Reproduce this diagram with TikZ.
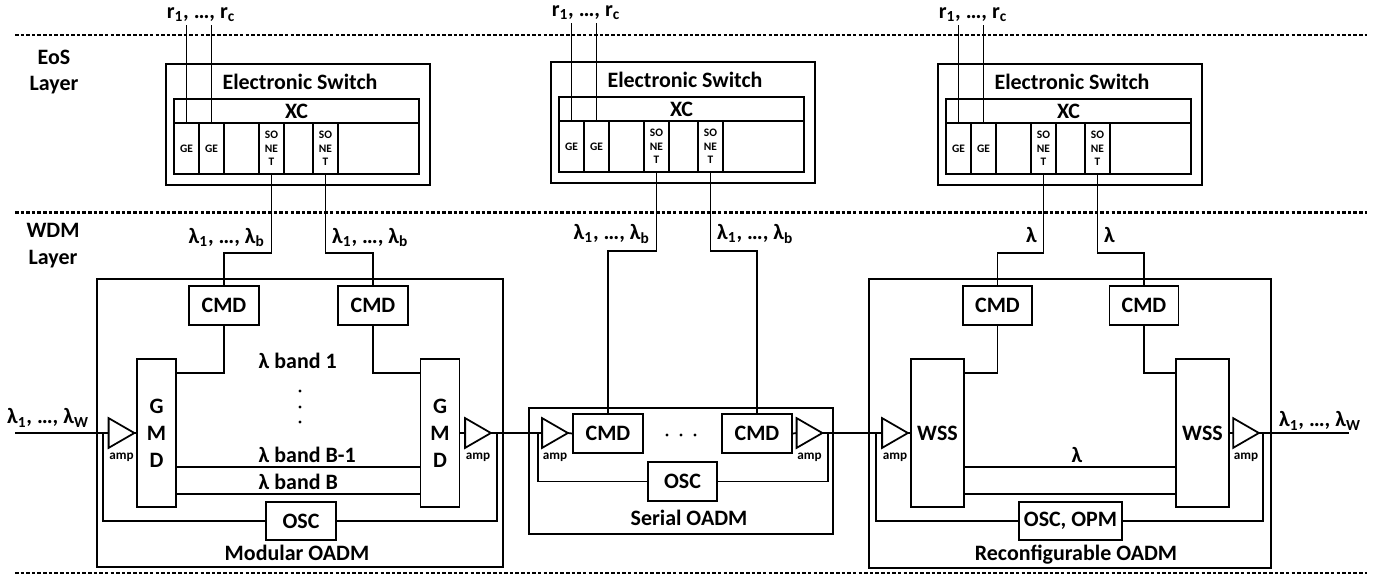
\documentclass[tikz,border=0pt]{standalone}
\usepackage{fontspec}
\setmainfont{Carlito}
\usetikzlibrary{positioning}

\begin{document}
\begin{tikzpicture}[
  x=0.2mm, y=-0.2mm, line width=1pt,
  every node/.style={font=\bfseries\fontsize{12.5}{15.3}\selectfont},
  blk/.style={draw, inner sep=0pt},
  cmd/.style={blk, minimum width=14mm, minimum height=7.8mm},
  cell/.style={draw, inner sep=0pt, minimum height=10.2mm, align=center, font=\bfseries\fontsize{6.5}{7.6}\selectfont},
  ampbox/.style={inner sep=0pt, minimum width=4.8mm, minimum height=5.6mm},
  amplbl/.style={inner sep=1pt, font=\bfseries\fontsize{7.5}{9}\selectfont},
  layerline/.style={line width=1.4pt, dash pattern=on 2pt off 1.2pt},
]
\useasboundingbox (0,0) rectangle (1391,576);

% ====== Layer separators ======
\draw[layerline] (15,35) -- (1367,35);
\draw[layerline] (15,212.5) -- (1367,212.5);
\draw[layerline] (15,573) -- (1367,573);
\node[align=center] (eosLbl) at (54,72) {EoS\\Layer};
\node[align=center] (wdmLbl) at (53,246) {WDM\\Layer};

% ====== Electronic switches ======
\foreach \sw/\xo/\yo in {L/166/64, M/551/62, R/938/64}{
  \begin{scope}[shift={(\xo,\yo)}]
    \node[blk, minimum width=52.8mm, minimum height=24.2mm] (\sw-box) at (132,60.5) {};
    \node (\sw-title) at (134,18) {Electronic Switch};
    \node[blk, minimum width=49mm, minimum height=4.8mm] (\sw-xc) at (130.5,47) {XC};
    \node[cell, minimum width=5mm] (\sw-ge1) at (20.5,84.5) {GE};
    \node[cell, minimum width=5mm] (\sw-ge2) at (45.5,84.5) {GE};
    \node[cell, minimum width=7mm] (\sw-e1) at (75.5,84.5) {};
    \node[cell, minimum width=5mm] (\sw-so1) at (105.5,84.5) {SO\\NE\\T};
    \node[cell, minimum width=5.8mm] (\sw-e2) at (132.5,84.5) {};
    \node[cell, minimum width=5mm] (\sw-so2) at (159.5,84.5) {SO\\NE\\T};
    \node[cell, minimum width=16.2mm] (\sw-e3) at (212.5,84.5) {};
    \node[inner sep=1pt] (\sw-r) at (35,-49) {r\textsubscript{1}, …, r\textsubscript{c}};
    \draw (\sw-ge1.north) -- (\sw-ge1.north |- \sw-r.south);
    \draw (\sw-ge2.north) -- (\sw-ge2.north |- \sw-r.south);
  \end{scope}
}

% ====== Amplifiers ======
\foreach \a/\p in {ampA1/{121.5,433}, ampA2/{478,433}, ampS1/{555,433},
                   ampS2/{809.5,433}, ampR1/{895,433}, ampR2/{1246,433}}{
  \node[ampbox] (\a) at (\p) {};
  \draw (\a.north west) -- (\a.east) -- (\a.south west) -- cycle;
  \node[amplbl, below=0.4mm of \a] (\a-lbl) {amp};
}

% ====== Modular OADM ======
\node[blk, minimum width=81.2mm, minimum height=57.6mm] (boxA) at (300,423) {};
\node (modTitle) at (297,553) {Modular OADM};
\node[cmd] (cmdA1) at (224,305.5) {CMD};
\node[cmd] (cmdA2) at (373,305.5) {CMD};
\node[blk, minimum width=7.8mm, minimum height=29.6mm, align=center] (gmdA1) at (156.5,433) {G\\M\\D};
\node[blk, minimum width=7.8mm, minimum height=29.6mm, align=center] (gmdA2) at (440,433) {G\\M\\D};
\node[blk, minimum width=14mm, minimum height=7.6mm] (oscA) at (301,521) {OSC};
\node[anchor=west] (band1) at (252,361) {λ band 1};
\node[anchor=west] (bandB1) at (252,455) {λ band B-1};
\node[anchor=west] (bandB) at (252,482) {λ band B};
\foreach \d in {391,407,422} \fill (300,\d) circle (1.6);
\coordinate (inW) at (15,433);
\coordinate (tapA1) at (103,433);
\coordinate (tapA2) at (497,433);
\node (inLbl) at (48,418) {λ\textsubscript{1}, …, λ\textsubscript{W}};

\draw (inW) -- (ampA1.west);
\draw (ampA1.east) -- (gmdA1.west);
\draw (cmdA1.south) |- ([yshift=12mm]gmdA1.east);
\draw (cmdA2.south) |- ([yshift=12mm]gmdA2.west);
\draw ([yshift=-6.8mm]gmdA1.east) -- ([yshift=-6.8mm]gmdA2.west);
\draw ([yshift=-12.2mm]gmdA1.east) -- ([yshift=-12.2mm]gmdA2.west);
\draw (gmdA2.east) -- (ampA2.west);
\draw (tapA1) |- (oscA.west);
\draw (oscA.east) -| (tapA2);
\draw (L-so1.south) -- ++(0,78) node[pos=0.8, left] (lamA1) {λ\textsubscript{1}, …, λ\textsubscript{b}} -| (cmdA1.north);
\draw (L-so2.south) -- ++(0,78) node[pos=0.8, right] (lamA2) {λ\textsubscript{1}, …, λ\textsubscript{b}} -| (cmdA2.north);

% ====== Serial OADM ======
\node[blk, minimum width=60.8mm, minimum height=25.2mm] (boxS) at (681,471) {};
\node (serTitle) at (689,518) {Serial OADM};
\node[cmd] (cmdS1) at (608,433.5) {CMD};
\node[cmd] (cmdS2) at (757,433.5) {CMD};
\node[blk, minimum width=13.8mm, minimum height=7.8mm] (oscS) at (682.5,481.5) {OSC};
\foreach \d in {667,681,695} \fill (\d,435) circle (1.6);
\coordinate (tapS1) at (538,433);
\coordinate (tapS2) at (828,433);

\draw (ampA2.east) -- (ampS1.west);
\draw (ampS1.east) -- (cmdS1.west);
\draw (cmdS2.east) -- (ampS2.west);
\draw (tapS1) |- (oscS.west);
\draw (oscS.east) -| (tapS2);
\draw (M-so1.south) -- ++(0,78) node[pos=0.78, left] (lamS1) {λ\textsubscript{1}, …, λ\textsubscript{b}} -| (cmdS1.north);
\draw (M-so2.south) -- ++(0,78) node[pos=0.78, right] (lamS2) {λ\textsubscript{1}, …, λ\textsubscript{b}} -| (cmdS2.north);

% ====== Reconfigurable OADM ======
\node[blk, minimum width=80.4mm, minimum height=57.8mm] (boxR) at (1070,423.5) {};
\node (recTitle) at (1076,555) {Reconfigurable OADM};
\node[cmd, minimum width=13.8mm] (cmdR1) at (997.5,305.5) {CMD};
\node[cmd, minimum width=13.8mm] (cmdR2) at (1144,305.5) {CMD};
\node[blk, minimum width=10.6mm, minimum height=29.6mm] (wssR1) at (937.5,433) {WSS};
\node[blk, minimum width=10.6mm, minimum height=29.6mm] (wssR2) at (1202.5,433) {WSS};
\node[blk, minimum width=20.6mm, minimum height=7.6mm] (oscR) at (1070.5,521) {OSC, OPM};
\node (lamR) at (1077,455) {λ};
\coordinate (tapR1) at (876,433);
\coordinate (tapR2) at (1263,433);
\coordinate (outW) at (1349,433);
\node (outLbl) at (1320,421) {λ\textsubscript{1}, …, λ\textsubscript{W}};

\draw (ampS2.east) -- (ampR1.west);
\draw (ampR1.east) -- (wssR1.west);
\draw (cmdR1.south) |- ([yshift=12mm]wssR1.east);
\draw (cmdR2.south) |- ([yshift=12mm]wssR2.west);
\draw ([yshift=-6.8mm]wssR1.east) -- ([yshift=-6.8mm]wssR2.west);
\draw ([yshift=-12.2mm]wssR1.east) -- ([yshift=-12.2mm]wssR2.west);
\draw (wssR2.east) -- (ampR2.west);
\draw (ampR2.east) -- (outW);
\draw (tapR1) |- (oscR.west);
\draw (oscR.east) -| (tapR2);
\draw (R-so1.south) -- ++(0,78) node[pos=0.77, left] (lamR1) {λ} -| (cmdR1.north);
\draw (R-so2.south) -- ++(0,78) node[pos=0.77, right] (lamR2) {λ} -| (cmdR2.north);

\end{tikzpicture}
\end{document}
